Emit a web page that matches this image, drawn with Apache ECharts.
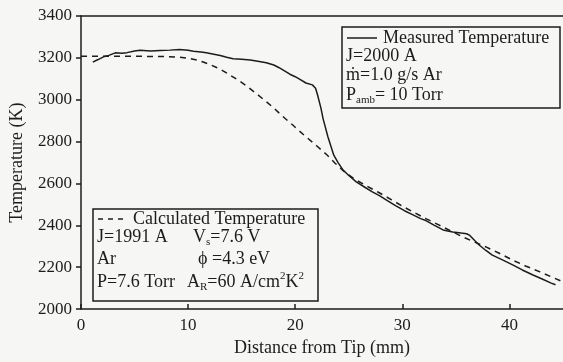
<!DOCTYPE html>
<html>
<head>
<meta charset="utf-8">
<script src="https://cdn.jsdelivr.net/npm/echarts@6/dist/echarts.min.js"></script>
<style>
  html, body { margin: 0; background: #f6f6f4; }
  #chart { width: 563px; height: 362px; }
</style>
</head>
<body>
<div id="chart"></div>
<script>
// measured (solid) curve
const measuredX = [1.1, 1.6, 2.1, 2.6, 3.2, 3.8, 4.3, 5.0, 5.5, 6.5, 7.4, 8.3, 9.2, 10.0, 10.5, 11.2, 11.7, 12.4, 13.0, 13.6,
  14.2, 15.0, 15.8, 16.5, 17.3, 18.0, 18.5, 19.0, 19.5, 20.0, 20.4, 21.0, 21.6, 21.9, 22.1, 22.4, 22.6, 23.05, 23.6, 24.0,
  24.44, 25.0, 25.7, 26.5, 27.2, 27.9, 28.6, 29.4, 30.2, 31.0, 31.7, 32.2, 33.0, 33.8, 34.7, 35.5, 36.0, 36.3, 36.8, 37.2,
  37.8, 38.4, 39.3, 40.3, 41.2, 42.2, 43.0, 43.9, 44.3];
const measuredT = [3180, 3192, 3205, 3212, 3224, 3222, 3225, 3233, 3236, 3233, 3235, 3237, 3240, 3236, 3232, 3228, 3224, 3217, 3211, 3203,
  3196, 3193, 3190, 3184, 3177, 3166, 3153, 3138, 3122, 3110, 3098, 3080, 3071, 3055, 3020, 2960, 2910, 2823, 2735, 2700,
  2666, 2638, 2608, 2582, 2560, 2541, 2518, 2493, 2470, 2450, 2432, 2423, 2400, 2378, 2368, 2363, 2360, 2352, 2325, 2305,
  2280, 2258, 2236, 2211, 2187, 2163, 2145, 2124, 2116];

// calculated (dashed) curve
const calcX = [0, 2, 4, 6, 8, 9.2, 10, 10.8, 11.4, 12, 12.6, 13.3, 14, 14.8, 15.6, 16.4, 17.2, 17.9, 18.8, 19.8,
  20.4, 21, 22, 23, 23.7, 24.5, 25.5, 26.6, 27.8, 29, 30, 31, 32.2, 33.4, 34.5, 35.6, 36.7, 37.8, 39, 40.3,
  41.5, 42.8, 44, 45];
const calcT = [3208, 3208, 3208, 3207, 3206, 3203, 3198, 3190, 3180, 3169, 3155, 3137, 3115, 3090, 3060, 3028, 2995, 2965, 2922, 2878,
  2850, 2823, 2780, 2735, 2698, 2660, 2622, 2590, 2557, 2522, 2492, 2464, 2432, 2402, 2374, 2346, 2321, 2297, 2268, 2234,
  2206, 2179, 2152, 2130];

const xTicks = [0, 10, 20, 30, 40];
const yTicks = [2000, 2200, 2400, 2600, 2800, 3000, 3200, 3400];

const INK = "#1c1c1c";
const FONT = '"Liberation Serif", "Times New Roman", serif';

const zip = (xs, ys) => xs.map((x, i) => [x, ys[i]]);

// text runs with sub/superscripts, placed side by side
const ctx = document.createElement("canvas").getContext("2d");
function textWidth(s, size) {
  ctx.font = size + "px " + FONT;
  return ctx.measureText(s).width;
}
function runs(x, y, parts) {
  const out = [];
  let cx = x;
  parts.forEach(([s, size, dy]) => {
    out.push({
      type: "text",
      x: cx,
      y: y + (dy || 0),
      style: { text: s, font: size + "px " + FONT, fill: INK, textAlign: "left", textVerticalAlign: "middle" },
    });
    cx += textWidth(s, size);
  });
  return out;
}

const chart = echarts.init(document.getElementById("chart"));

const graphic = [
  // top-right box
  { type: "rect", shape: { x: 342, y: 27, width: 218, height: 81 }, style: { fill: "none", stroke: INK, lineWidth: 1.5 } },
  { type: "line", shape: { x1: 347, y1: 38, x2: 377, y2: 38 }, style: { stroke: INK, lineWidth: 1.5 } },
  ...runs(383, 38, [["Measured Temperature", 18]]),
  ...runs(346, 56, [["J=2000 A", 18]]),
  ...runs(346, 75, [["ṁ=1.0 g/s Ar", 18]]),
  ...runs(346, 95, [["P", 18], ["amb", 11, 5], ["= 10 Torr", 18]]),

  // bottom-left box
  { type: "rect", shape: { x: 93, y: 209, width: 225, height: 92 }, style: { fill: "none", stroke: INK, lineWidth: 1.5 } },
  { type: "line", shape: { x1: 98, y1: 219, x2: 127, y2: 219 }, style: { stroke: INK, lineWidth: 1.5, lineDash: [5, 5] } },
  ...runs(133, 219, [["Calculated Temperature", 18]]),
  ...runs(97, 237, [["J=1991 A", 18]]),
  ...runs(193, 237, [["V", 18], ["s", 11, 5], ["=7.6 V", 18]]),
  ...runs(97, 259, [["Ar", 18]]),
  ...runs(198, 259, [["ϕ =4.3 eV", 18]]),
  ...runs(97, 282, [["P=7.6 Torr", 18]]),
  ...runs(187, 282, [["A", 18], ["R", 11, 5], ["=60 A/cm", 18], ["2", 11, -6], ["K", 18], ["2", 11, -6]]),
];

const option = {
  backgroundColor: "#f6f6f4",
  animation: false,
  grid: { left: 81, right: 0, top: 16, bottom: 49 },
  xAxis: [
    {
      type: "value",
      min: 0,
      max: 45,
      interval: 10,
      name: "Distance from Tip (mm)",
      nameLocation: "middle",
      nameGap: 28,
      nameTextStyle: { color: INK, fontFamily: FONT, fontSize: 18 },
      axisLine: { onZero: false, lineStyle: { color: INK, width: 1.5 } },
      axisTick: { inside: true, length: 5, lineStyle: { color: INK, width: 1.5 } },
      axisLabel: {
        color: INK,
        fontFamily: FONT,
        fontSize: 17,
        margin: 8,
        showMaxLabel: false,
        formatter: (v) => (xTicks.includes(v) ? String(v) : ""),
      },
      splitLine: { show: false },
    },
    {
      type: "value",
      position: "top",
      min: 0,
      max: 45,
      axisLine: { onZero: false, lineStyle: { color: INK, width: 1.5 } },
      axisTick: { show: false },
      axisLabel: { show: false },
      splitLine: { show: false },
    },
  ],
  yAxis: {
    type: "value",
    min: 2000,
    max: 3400,
    interval: 200,
    name: "Temperature (K)",
    nameLocation: "middle",
    nameRotate: 90,
    nameGap: 55,
    nameTextStyle: { color: INK, fontFamily: FONT, fontSize: 18 },
    axisLine: { show: true, onZero: false, lineStyle: { color: INK, width: 1.5 } },
    axisTick: { show: true, length: 5, lineStyle: { color: INK, width: 1.5 } },
    axisLabel: {
      color: INK,
      fontFamily: FONT,
      fontSize: 17,
      margin: 9,
      formatter: (v) => (yTicks.includes(v) ? String(v) : ""),
    },
    splitLine: { show: false },
  },
  series: [
    {
      name: "Measured Temperature",
      type: "line",
      data: zip(measuredX, measuredT),
      showSymbol: false,
      lineStyle: { color: INK, width: 1.5 },
    },
    {
      name: "Calculated Temperature",
      type: "line",
      data: zip(calcX, calcT),
      showSymbol: false,
      lineStyle: { color: INK, width: 1.5, type: [6, 5] },
    },
  ],
  graphic: graphic,
};

chart.setOption(option);
</script>
</body>
</html>
